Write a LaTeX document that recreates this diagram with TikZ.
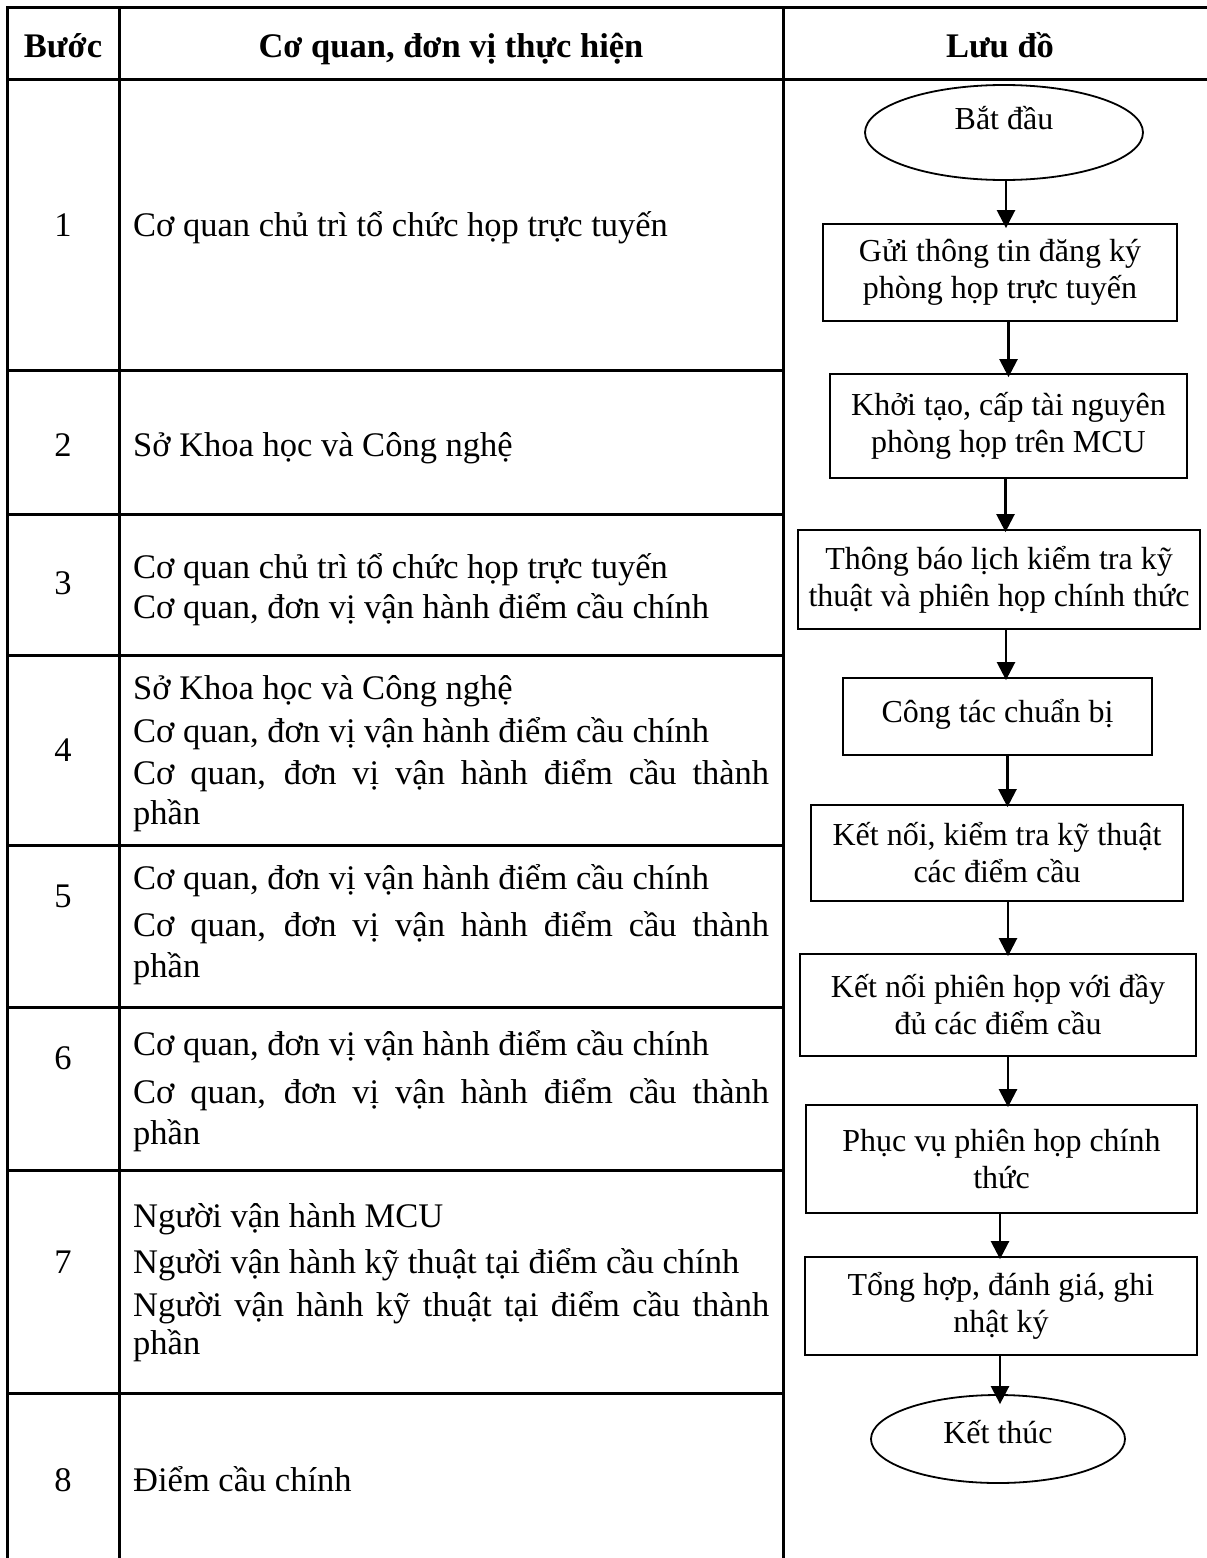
\documentclass[tikz,border=0pt]{standalone}
\usepackage{fontspec}
\setmainfont{Liberation Serif}
\usetikzlibrary{arrows.meta,shapes.geometric}
\newcommand\celltxt{\fontsize{34.5}{40}\selectfont}
\newcommand\boxtxt{\fontsize{32}{37}\selectfont}
\newcommand\jline[1]{\makebox[636pt][s]{#1}}
\begin{document}
\begin{tikzpicture}[x=1pt,y=-1pt,
 grid/.style={line width=3pt},
 cell/.style={anchor=base west, inner sep=0pt, font=\celltxt},
 num/.style={anchor=base, inner sep=0pt, font=\celltxt},
 head/.style={anchor=base, inner sep=0pt, font=\celltxt\bfseries},
 fbox/.style={draw, line width=1.8pt, rectangle, inner sep=0pt, align=center, font=\boxtxt},
 term/.style={draw, line width=1.8pt, ellipse, inner sep=0pt, font=\boxtxt},
 arr/.style={line width=2.5pt, -{Triangle[length=18pt,width=18pt]}}]
\useasboundingbox (0,0) rectangle (1207,1558);
\fill[white] (0,0) rectangle (1207,1558);

% table grid
\draw[grid] (1207,7) -- (7,7) -- (7,1558);
\draw[grid] (7,79) -- (1207,79);
\draw[grid] (119,7) -- (119,1558);
\draw[grid] (783,7) -- (783,1558);
\foreach \yy in {370,514,655,845,1007,1170,1393}
  \draw[grid] (7,\yy) -- (783,\yy);

% header
\node[head] (hB) at (63,57) {Bước};
\node[head] (hC) at (451,57) {Cơ quan, đơn vị thực hiện};
\node[head] (hL) at (1000,57) {Lưu đồ};

% step numbers
\node[num] (n1) at (63,236) {1};
\node[num] (n2) at (63,456) {2};
\node[num] (n3) at (63,594) {3};
\node[num] (n4) at (63,761) {4};
\node[num] (n5) at (63,907) {5};
\node[num] (n6) at (63,1069) {6};
\node[num] (n7) at (63,1273) {7};
\node[num] (n8) at (63,1491) {8};

% column 2 texts
\node[cell] (r1a) at (133,236) {Cơ quan chủ trì tổ chức họp trực tuyến};
\node[cell] (r2a) at (133,456) {Sở Khoa học và Công nghệ};
\node[cell] (r3a) at (133,578) {Cơ quan chủ trì tổ chức họp trực tuyến};
\node[cell] (r3b) at (133,618) {Cơ quan, đơn vị vận hành điểm cầu chính};
\node[cell] (r4a) at (133,699) {Sở Khoa học và Công nghệ};
\node[cell] (r4b) at (133,742) {Cơ quan, đơn vị vận hành điểm cầu chính};
\node[cell] (r4c) at (133,784) {\jline{Cơ quan, đơn vị vận hành điểm cầu thành}};
\node[cell] (r4d) at (133,824) {phần};
\node[cell] (r5a) at (133,889) {Cơ quan, đơn vị vận hành điểm cầu chính};
\node[cell] (r5b) at (133,936) {\jline{Cơ quan, đơn vị vận hành điểm cầu thành}};
\node[cell] (r5c) at (133,977) {phần};
\node[cell] (r6a) at (133,1055) {Cơ quan, đơn vị vận hành điểm cầu chính};
\node[cell] (r6b) at (133,1103) {\jline{Cơ quan, đơn vị vận hành điểm cầu thành}};
\node[cell] (r6c) at (133,1144) {phần};
\node[cell] (r7a) at (133,1227) {Người vận hành MCU};
\node[cell] (r7b) at (133,1273) {Người vận hành kỹ thuật tại điểm cầu chính};
\node[cell] (r7c) at (133,1316) {\jline{Người vận hành kỹ thuật tại điểm cầu thành}};
\node[cell] (r7d) at (133,1354) {phần};
\node[cell] (r8a) at (133,1491) {Điểm cầu chính};

% flowchart
\node[term, minimum width=278pt, minimum height=95pt, text height=20pt, text depth=26pt] (e1) at (1004,132.5) {Bắt đầu};
\node[fbox, minimum width=354pt, minimum height=97pt] (b1) at (1000,272.5) {Gửi thông tin đăng ký\\phòng họp trực tuyến};
\node[fbox, minimum width=357pt, minimum height=104pt] (b2) at (1008.5,426) {Khởi tạo, cấp tài nguyên\\phòng họp trên MCU};
\node[fbox, minimum width=402pt, minimum height=99pt] (b3) at (999,579.5) {Thông báo lịch kiểm tra kỹ\\thuật và phiên họp chính thức};
\node[fbox, minimum width=309pt, minimum height=77pt, text height=24pt, text depth=13pt] (b4) at (997.5,716.5) {Công tác chuẩn bị};
\node[fbox, minimum width=372pt, minimum height=96pt] (b5) at (997,853) {Kết nối, kiểm tra kỹ thuật\\các điểm cầu};
\node[fbox, minimum width=396pt, minimum height=102pt] (b6) at (998,1005) {Kết nối phiên họp với đầy\\đủ các điểm cầu};
\node[fbox, minimum width=391pt, minimum height=108pt] (b7) at (1001.5,1159) {Phục vụ phiên họp chính\\thức};
\node[fbox, minimum width=392pt, minimum height=98pt] (b8) at (1001,1306) {Tổng hợp, đánh giá, ghi\\nhật ký};
\node[term, minimum width=254pt, minimum height=88pt, text height=26pt, text depth=18pt] (e2) at (998,1439) {Kết thúc};

% connectors
\draw[arr] ([xshift=2pt]e1.south) -- ([xshift=2pt,yshift=-5pt]e1.south |- b1.north);
\draw[arr] (b1.south -| b2.north) -- ([yshift=-4pt]b2.north);
\draw[arr] ([xshift=-3pt]b2.south) -- ([xshift=-3pt,yshift=-3pt]b2.south |- b3.north);
\draw[arr] ([xshift=7pt]b3.south) -- ([xshift=7pt,yshift=-3pt]b3.south |- b4.north);
\draw[arr] ([xshift=10pt]b4.south) -- ([xshift=10pt,yshift=-3pt]b4.south |- b5.north);
\draw[arr] ([xshift=11pt]b5.south) -- ([xshift=11pt,yshift=-3pt]b5.south |- b6.north);
\draw[arr] ([xshift=10pt]b6.south) -- ([xshift=10pt,yshift=-3pt]b6.south |- b7.north);
\draw[arr] ([xshift=-1.5pt]b7.south) -- ([xshift=-1.5pt,yshift=-3pt]b7.south |- b8.north);
\draw[arr] ([xshift=-1pt]b8.south) -- ([xshift=-1pt,yshift=-10pt]b8.south |- e2.north);
\end{tikzpicture}
\end{document}
